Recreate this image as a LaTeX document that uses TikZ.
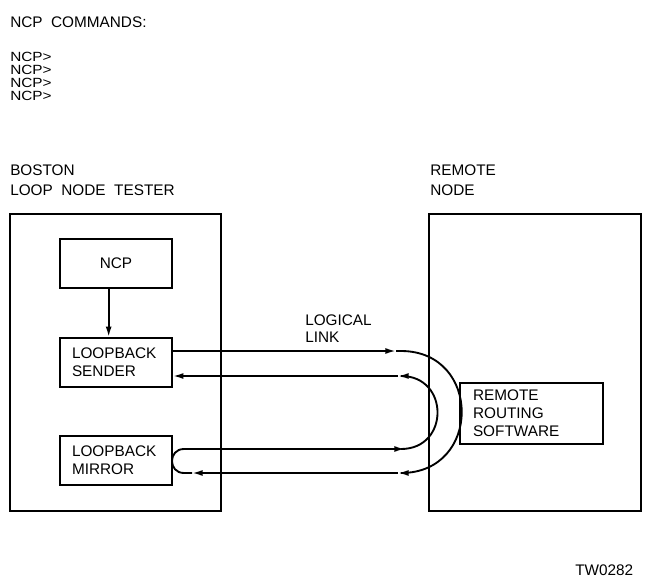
\documentclass[tikz,border=0pt]{standalone}
\usepackage{fontspec}
\setmainfont{Liberation Sans}
\newfontfamily\promptfont{Liberation Sans}[FakeStretch=1.15]
\usetikzlibrary{arrows.meta,positioning,calc}

\begin{document}
\begin{tikzpicture}[
    x=0.75pt,y=-0.75pt,
    every node/.style={font=\fontsize{11.5}{13.5}\selectfont},
    lbl/.style={anchor=base west,inner sep=0pt},
    unit/.style={draw,line width=1.8pt,minimum width=158.25pt,
                 minimum height=222.75pt,inner sep=0pt},
    box/.style={draw,line width=1.2pt,minimum width=84pt,
                minimum height=36.75pt,inner sep=0pt},
    lbox/.style={box,text width=66pt,align=left,inner xsep=9pt},
    link/.style={line width=1.4pt},
    tip/.style={link,-{Latex[length=8pt,width=4.5pt]}},
  ]
    \useasboundingbox (0,0) rectangle (646,578);
    % commands
    \node[lbl](cmds) at (10,27){NCP\ \ COMMANDS:};
    \foreach \i in {0,...,3}
      \node[lbl,font=\promptfont\fontsize{10}{10}\selectfont](prompt\i)
        at (10,61+13.3*\i){NCP>};
    % the two systems
    \node[lbl](boston) at (10,175){BOSTON};
    \node[lbl](tester) at (10,195){LOOP\ \ NODE\ \ TESTER};
    \node[lbl](remote) at (430,175){REMOTE};
    \node[lbl](rnode) at (430,195){NODE};
    \node[unit](lnt) at (115.5,362.5){};
    \node[unit,minimum width=159pt](rn) at (535,362.5){};
    \node[box](ncp) at (116,263.5){NCP};
    \node[lbox](sender) at (116,362.5){LOOPBACK\\SENDER};
    \node[lbox](mirror) at (116,460.5){LOOPBACK\\MIRROR};
    \node[box,minimum width=107.25pt,minimum height=45.75pt,
          text width=87.75pt,align=left,inner xsep=9.75pt](rrs)
          at (531.5,413.5){REMOTE\\ROUTING\\SOFTWARE};
    \node[lbl](logical) at (305,325){LOGICAL};
    \node[lbl](lnk) at (305,342){LINK};
    \node[lbl](fig) at (575,575){TW0282};
    \draw[tip]([xshift=-5.5pt]ncp.south)--([xshift=-5.5pt]sender.north);
    % logical link looped through the remote node
    \coordinate (bigtop) at (401,351);
    \coordinate (bigbot) at (401,473);
    \coordinate (smltop) at (401,376);
    \coordinate (smlbot) at (401,449);
    \coordinate (loopbot) at (184,473);
    \coordinate (looptop) at (184,449);
    \coordinate (outtip) at (396,351);
    \coordinate (backtip) at (398,473);
    \coordinate (mirtip) at (192,473);
    \coordinate (rettip) at (405,449);
    \coordinate (sndtip) at (398,376);
    \draw[tip](sender.east |- outtip)--(outtip);
    \draw[tip](outtip)--(bigtop)
      .. controls (482,351) and (482,473) .. (bigbot)--(backtip);
    \draw[tip](backtip)--(mirtip);
    \draw[tip](mirtip)--(loopbot)
      .. controls (168,473) and (168,449) .. (looptop)--(rettip);
    \draw[tip](rettip)--(smlbot)
      .. controls (449.7,449) and (449.7,376) .. (smltop)--(sndtip);
    \draw[tip](sndtip)--(sender.east |- sndtip);
\end{tikzpicture}
\end{document}
